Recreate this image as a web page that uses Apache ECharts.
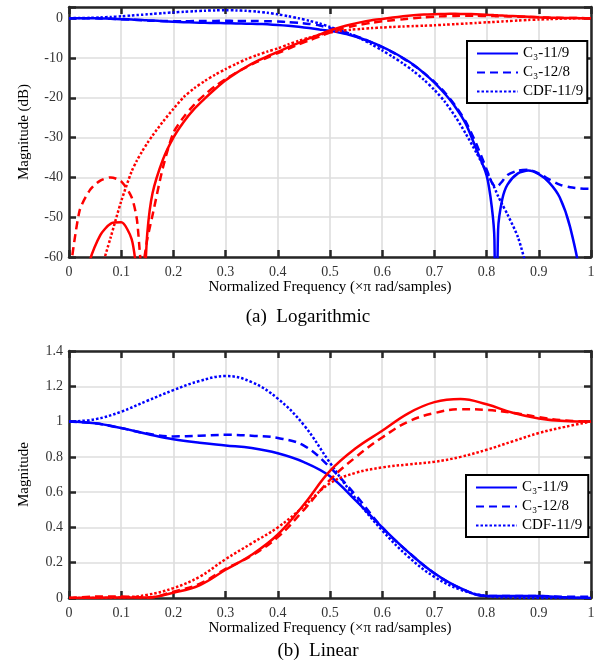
<!DOCTYPE html>
<html><head><meta charset="utf-8">
<script src="https://cdn.jsdelivr.net/npm/echarts@6/dist/echarts.min.js"></script>
<style>html,body{margin:0;padding:0;background:#fff}#c{width:605px;height:669px}</style>
</head><body><div id="c"></div><script>
// Frequency grid for the logarithmic (dB) panel
const freqDB = [0,0.02,0.04,0.06,0.08,0.10,0.12,0.13,0.14,0.15,
  0.16,0.18,0.20,0.22,0.24,0.26,0.28,0.30,0.32,0.34,
  0.36,0.38,0.40,0.42,0.44,0.46,0.48,0.50,0.52,0.54,
  0.56,0.58,0.60,0.62,0.64,0.66,0.68,0.70,0.72,0.74,
  0.76,0.78,0.80,0.81,0.815,0.818,0.822,0.83,0.84,0.86,
  0.88,0.90,0.92,0.94,0.96,0.98,1.00];
// Lowpass (blue) responses in dB
const c3_119_lpDB = [0,-0.01,-0.03,-0.08,-0.15,-0.25,-0.36,-0.42,-0.48,-0.55,
  -0.61,-0.75,-0.9,-1.0,-1.1,-1.17,-1.22,-1.27,-1.32,-1.38,
  -1.45,-1.56,-1.72,-1.92,-2.18,-2.5,-2.85,-3.2,-3.7,-4.3,
  -5.1,-6.1,-7.2,-8.5,-10,-11.7,-13.8,-16.2,-19,-22.3,
  -26.5,-32.8,-39.5,-47.5,-55.7,-100,-53.2,-45.5,-41.8,-39,
  -38.3,-39.2,-41.3,-45,-52.5,-66,-120];
const c3_128_lpDB = [0,-0.01,-0.03,-0.08,-0.16,-0.26,-0.4,-0.46,-0.53,-0.6,
  -0.65,-0.72,-0.76,-0.76,-0.74,-0.72,-0.69,-0.68,-0.69,-0.7,
  -0.73,-0.78,-0.85,-0.98,-1.17,-1.45,-1.85,-2.5,-3.2,-4.0,
  -5.0,-6.1,-7.3,-8.6,-10.1,-11.8,-13.8,-16.0,-18.7,-22,
  -26,-31.5,-38,-41.3,-42.2,-42.4,-42.2,-41,-39.4,-38.3,
  -38.1,-39,-40.5,-41.8,-42.5,-42.8,-42.9];
const cdf_119_lpDB = [0,0.02,0.08,0.17,0.3,0.47,0.66,0.76,0.86,0.96,
  1.06,1.26,1.44,1.6,1.75,1.87,1.95,1.98,1.94,1.83,
  1.63,1.33,0.95,0.5,-0.05,-0.65,-1.35,-2.2,-3.1,-4.1,
  -5.2,-6.6,-8.1,-9.7,-11.4,-13.3,-15.5,-18,-21,-24.7,
  -29,-33.7,-38.6,-41.2,-42.6,-43.5,-44.7,-46.8,-49.3,-55,
  -64,-72,-80,-90,-100,-110,-120];
// Highpass (red) responses in dB
const c3_119_hpDB = [-120,-80,-61,-54.5,-51.6,-51.3,-55.5,-64,-75,-54,
  -44,-35.5,-30,-26,-22.8,-20.2,-17.8,-15.6,-13.8,-12.2,
  -10.8,-9.6,-8.5,-7.3,-6.2,-5.1,-4.1,-3.1,-2.3,-1.6,
  -1.0,-0.55,-0.2,0.15,0.45,0.7,0.9,1.0,1.07,1.08,
  1.05,0.97,0.85,0.78,0.75,0.73,0.7,0.65,0.58,0.45,
  0.32,0.2,0.12,0.06,0.02,0.005,0];
const c3_128_hpDB = [-66,-48.5,-43.2,-40.8,-40,-41,-45,-50.5,-63,-55.5,
  -49.5,-37.5,-28.8,-24.8,-21.7,-19.2,-17.1,-15.3,-13.7,-12.3,
  -11,-9.9,-8.8,-7.7,-6.6,-5.6,-4.6,-3.6,-2.8,-2.1,
  -1.6,-1.15,-0.8,-0.5,-0.25,0,0.2,0.38,0.5,0.57,
  0.6,0.58,0.55,0.52,0.51,0.5,0.49,0.47,0.44,0.37,
  0.3,0.22,0.14,0.08,0.03,0.01,0];
const cdf_119_hpDB = [-120,-90,-75,-64,-55,-46,-38.5,-35.8,-33.5,-31.4,
  -29.5,-26,-22.8,-19.8,-17.6,-15.8,-14.2,-12.8,-11.5,-10.3,
  -9.3,-8.4,-7.6,-6.6,-5.7,-4.9,-4.2,-3.6,-3.2,-2.9,
  -2.7,-2.5,-2.35,-2.2,-2.1,-2.0,-1.9,-1.8,-1.65,-1.5,
  -1.35,-1.2,-1.05,-0.98,-0.94,-0.92,-0.89,-0.83,-0.75,-0.6,
  -0.45,-0.35,-0.25,-0.15,-0.08,-0.02,0];

// Linear panel
const freqLin = [0,0.05,0.10,0.15,0.20,0.25,0.30,0.35,0.40,0.45,0.50,
  0.55,0.60,0.65,0.70,0.75,0.80,0.85,0.90,0.95,1.00];
const c3_119_lpLin = [1.0,0.99,0.963,0.93,0.90,0.88,0.865,0.85,0.82,0.77,0.69,0.55,0.40,0.26,0.14,0.056,0.011,0.011,0.011,0.004,0];
const c3_128_lpLin = [1.0,0.99,0.963,0.932,0.916,0.92,0.925,0.92,0.907,0.864,0.74,0.58,0.40,0.26,0.14,0.055,0.012,0.012,0.011,0.0075,0.007];
const cdf_119_lpLin = [1.0,1.013,1.056,1.118,1.178,1.23,1.258,1.224,1.13,0.98,0.766,0.56,0.383,0.234,0.12,0.047,0.012,0.003,0.0005,0,0];
const c3_119_hpLin = [0,0.002,0.003,0.003,0.03,0.072,0.16,0.245,0.36,0.53,0.72,0.85,0.948,1.047,1.11,1.128,1.098,1.05,1.018,1.003,1.0];
const c3_128_hpLin = [0,0.008,0.009,0.002,0.036,0.08,0.165,0.24,0.345,0.50,0.67,0.80,0.91,1.0,1.048,1.07,1.066,1.05,1.025,1.006,1.0];
const cdf_119_hpLin = [0,0.0001,0.003,0.018,0.056,0.12,0.22,0.31,0.40,0.52,0.65,0.71,0.74,0.757,0.772,0.80,0.84,0.888,0.935,0.97,1.0];

const legendNames = ['C\u2083-11/9', 'C\u2083-12/8', 'CDF-11/9'];

const FONT = '"Liberation Serif", "DejaVu Serif", serif';
const AX = '#262626';
const BLUE = '#0000ff', RED = '#ff0000';
const DASH = [8, 5], DOT = [2.5, 2];

function pairs(fr, v) { return fr.map((f, i) => [f, v[i]]); }

const axisLine = { show: true, onZero: false, lineStyle: { color: AX, width: 2.5 } };
const axisTick = { show: true, inside: true, length: 7, lineStyle: { color: AX, width: 2.5 } };
const split = { show: true, lineStyle: { color: '#dedede', width: 1.6 } };

function xAx(grid, pos, main) {
  return {
    type: 'value', gridIndex: grid, position: pos, min: 0, max: 1, interval: 0.1,
    axisLine, axisTick,
    axisLabel: { show: main, margin: 8, color: '#333', fontFamily: FONT, fontSize: 14 },
    splitLine: main ? split : { show: false },
    name: main ? 'Normalized Frequency (\u00d7\u03c0 rad/samples)' : '',
    nameLocation: 'middle', nameGap: 14,
    nameTextStyle: { fontFamily: FONT, fontSize: 15, color: '#000' }
  };
}
function yAx(grid, pos, main, min, max, interval, name, fmt) {
  return {
    type: 'value', gridIndex: grid, position: pos, min, max, interval,
    axisLine, axisTick,
    axisLabel: { show: main, margin: 6, color: '#333', fontFamily: FONT, fontSize: 14, formatter: fmt },
    splitLine: main ? split : { show: false },
    name: main ? name : '', nameLocation: 'middle', nameGap: 37,
    nameTextStyle: { fontFamily: FONT, fontSize: 15, color: '#000' }
  };
}

function series(name, data, color, type, xi, yi, smooth) {
  return {
    type: 'line', name, data, xAxisIndex: xi, yAxisIndex: yi,
    showSymbol: false, symbol: 'none', smooth, clip: true,
    lineStyle: { color, width: 2.5, type },
    itemStyle: { color },
    emphasis: { disabled: true }, silent: true, animation: false
  };
}

function legend(left, top, padR) {
  return {
    data: legendNames, orient: 'vertical', left, top,
    backgroundColor: '#fff', borderColor: '#000', borderWidth: 2,
    padding: [5, padR, 4, 9], itemGap: 4, itemWidth: 41, itemHeight: 15,
    itemStyle: { opacity: 0, borderWidth: 0 },
    textStyle: { fontFamily: FONT, fontSize: 15, color: '#000', lineHeight: 15 },
    selectedMode: false
  };
}

const fmtDB = v => (Math.abs(v % 10) < 1e-9 ? String(v) : '');
const fmtLin = v => String(+v.toFixed(1));

const option = {
  animation: false,
  backgroundColor: '#fff',
  textStyle: { fontFamily: FONT },
  grid: [
    { left: 69, top: 7, width: 522, height: 250 },
    { left: 69, top: 351, width: 522, height: 247 }
  ],
  xAxis: [ xAx(0, 'bottom', true), xAx(0, 'top', false), xAx(1, 'bottom', true), xAx(1, 'top', false) ],
  yAxis: [
    yAx(0, 'left', true, -60, 2.8, 10, 'Magnitude (dB)', fmtDB),
    yAx(0, 'right', false, -60, 2.8, 10, '', fmtDB),
    yAx(1, 'left', true, 0, 1.4, 0.2, 'Magnitude', fmtLin),
    yAx(1, 'right', false, 0, 1.4, 0.2, '', fmtLin)
  ],
  legend: [ legend(467, 41, 4), legend(466, 475, 6) ],
  series: [
    series(legendNames[0], pairs(freqDB, c3_119_lpDB), BLUE, 'solid', 0, 0, 0.25),
    series(legendNames[1], pairs(freqDB, c3_128_lpDB), BLUE, DASH, 0, 0, 0.25),
    series(legendNames[2], pairs(freqDB, cdf_119_lpDB), BLUE, DOT, 0, 0, 0.25),
    series('hp1', pairs(freqDB, c3_119_hpDB), RED, 'solid', 0, 0, 0.25),
    series('hp2', pairs(freqDB, c3_128_hpDB), RED, DASH, 0, 0, 0.25),
    series('hp3', pairs(freqDB, cdf_119_hpDB), RED, DOT, 0, 0, 0.25),
    series(legendNames[0], pairs(freqLin, c3_119_lpLin), BLUE, 'solid', 2, 2, 0.4),
    series(legendNames[1], pairs(freqLin, c3_128_lpLin), BLUE, DASH, 2, 2, 0.4),
    series(legendNames[2], pairs(freqLin, cdf_119_lpLin), BLUE, DOT, 2, 2, 0.4),
    series('hp1', pairs(freqLin, c3_119_hpLin), RED, 'solid', 2, 2, 0.4),
    series('hp2', pairs(freqLin, c3_128_hpLin), RED, DASH, 2, 2, 0.4),
    series('hp3', pairs(freqLin, cdf_119_hpLin), RED, DOT, 2, 2, 0.4)
  ],
  graphic: [
    { type: 'text', x: 308, y: 317, style: { text: '(a)  Logarithmic', font: '19px "Liberation Serif", serif', fill: '#000', align: 'center', verticalAlign: 'middle' } },
    { type: 'text', x: 318, y: 651, style: { text: '(b)  Linear', font: '19px "Liberation Serif", serif', fill: '#000', align: 'center', verticalAlign: 'middle' } }
  ]
};

const chart = echarts.init(document.getElementById('c'), null, { renderer: 'canvas' });
chart.setOption(option);
</script></body></html>
